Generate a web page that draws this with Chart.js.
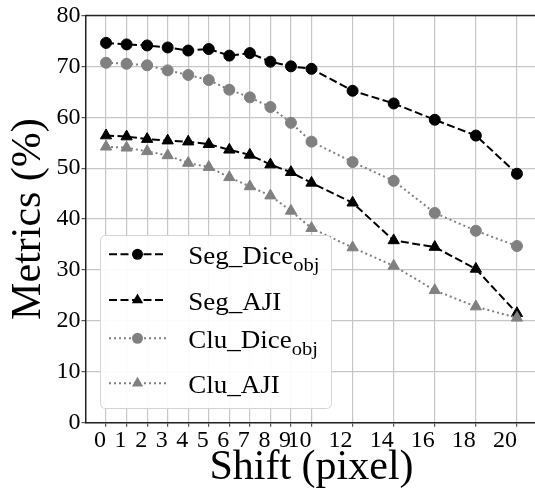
<!DOCTYPE html>
<html><head><meta charset="utf-8">
<script src="https://cdn.jsdelivr.net/npm/chart.js@4/dist/chart.umd.min.js"></script>
<style>
html,body{margin:0;padding:0;background:#fff;overflow:hidden;width:535px;height:498px;}
#wrap{width:535px;height:498px;overflow:hidden;position:relative;}
canvas{display:block;}
</style></head><body>
<div id="wrap"><canvas id="c" width="545" height="498" style="width:545px;height:498px"></canvas></div>
<script>
const shifts = [0,1,2,3,4,5,6,7,8,9,10,12,14,16,18,20];
const xTickValues = [0,1,2,3,4,5,6,7,8,9,10,12,14,16,18,20];
const yTickValues = [0,10,20,30,40,50,60,70,80];
const segDice = [74.6,74.3,74.1,73.7,73.1,73.4,72.1,72.6,70.9,70.0,69.5,65.2,62.7,59.5,56.4,48.9];
const segAJI  = [56.4,56.2,55.7,55.4,55.2,54.7,53.6,52.6,50.7,49.2,47.1,43.2,35.8,34.5,30.2,21.5];
const cluDice = [70.7,70.5,70.2,69.2,68.3,67.3,65.4,63.9,62.0,58.9,55.2,51.2,47.5,41.2,37.7,34.7];
const cluAJI  = [54.2,54.0,53.3,52.5,51.0,50.2,48.2,46.4,44.6,41.6,38.2,34.4,30.8,26.0,22.8,20.6];
const seriesNames = ['Seg_Dice','Seg_AJI','Clu_Dice','Clu_AJI'];
const seriesSubs  = ['obj','','obj',''];

const FONT = '"Liberation Serif", "Times New Roman", serif';
const BLACK = '#000000', GRAY = '#808080';

function mk(name, vals, color, dash, style, r, order){
  return {
    label: name,
    data: shifts.map((x,i)=>({x:x, y:vals[i]})),
    borderColor: color, backgroundColor: color,
    borderWidth: 2, borderDash: dash,
    pointStyle: style, pointRadius: r, pointBorderWidth: 1,
    pointBackgroundColor: color, pointBorderColor: color,
    tension: 0, order: order, fill: false
  };
}

const frame = {
  id: 'frame',
  afterDatasetsDraw(chart){
    const {ctx, chartArea:a} = chart;
    ctx.save();
    ctx.strokeStyle = '#222'; ctx.lineWidth = 1.5;
    ctx.beginPath(); ctx.moveTo(a.left, a.top); ctx.lineTo(a.right, a.top); ctx.stroke();
    ctx.restore();
  },
  afterDraw(chart){
    const ctx = chart.ctx;
    ctx.save();
    ctx.beginPath();
    ctx.roundRect(100.5, 235.5, 231, 173, 5);
    ctx.fillStyle = 'rgba(255,255,255,0.93)';
    ctx.fill();
    ctx.strokeStyle = '#d4d4d4'; ctx.lineWidth = 1; ctx.stroke();
    const rows = [254.3, 300, 338.3, 383.3];
    chart.data.datasets.forEach((ds,i)=>{
      const y = rows[i];
      ctx.strokeStyle = ds.borderColor; ctx.lineWidth = 2;
      ctx.setLineDash(ds.borderDash);
      ctx.beginPath(); ctx.moveTo(109, y); ctx.lineTo(166, y); ctx.stroke();
      ctx.setLineDash([]);
      ctx.fillStyle = ds.borderColor;
      ctx.beginPath();
      if (ds.pointStyle === 'circle') {
        ctx.arc(137.5, y, 5.5, 0, Math.PI*2);
      } else {
        const r = 6.5;
        ctx.moveTo(137.5, y - r);
        ctx.lineTo(137.5 + r*Math.sin(Math.PI*2/3), y - r*Math.cos(Math.PI*2/3));
        ctx.lineTo(137.5 + r*Math.sin(Math.PI*4/3), y - r*Math.cos(Math.PI*4/3));
        ctx.closePath();
      }
      ctx.fill();
      ctx.fillStyle = '#000';
      ctx.textBaseline = 'alphabetic'; ctx.textAlign = 'left';
      ctx.save();
      ctx.translate(188.3, y + 9.5);
      ctx.scale(1.08, 1);
      ctx.font = '25px ' + FONT;
      ctx.fillText(seriesNames[i], 0, 0);
      const w = ctx.measureText(seriesNames[i]).width;
      if (seriesSubs[i]) {
        ctx.font = '19px ' + FONT;
        ctx.fillText(seriesSubs[i], w, 7);
      }
      ctx.restore();
    });
    ctx.restore();
  }
};

new Chart(document.getElementById('c'), {
  type: 'line',
  data: {
    datasets: [
      mk(seriesNames[0]+'obj', segDice, BLACK, [8,3.5], 'circle', 5.5, 4),
      mk(seriesNames[1], segAJI, BLACK, [8,3.5], 'triangle', 6.5, 3),
      mk(seriesNames[2]+'obj', cluDice, GRAY, [2,3], 'circle', 5.5, 2),
      mk(seriesNames[3], cluAJI, GRAY, [2,3], 'triangle', 6.5, 1)
    ]
  },
  options: {
    responsive: false, animation: false, devicePixelRatio: 1,
    layout: {padding: {top: 12.7, right: 5.3, left: 0, bottom: 0}},
    plugins: {legend: {display: false}, tooltip: {enabled: false}},
    scales: {
      x: {
        type: 'linear', min: -1, max: 21,
        afterBuildTicks: s => { s.ticks = xTickValues.map(v => ({value: v})); },
        afterFit: s => { s.height = 75.3; },
        ticks: {autoSkip: false, maxRotation: 0, minRotation: 0, align: 'end', padding: 0,
                color: '#000', font: {family: FONT, size: 24}},
        grid: {color: '#c6c6c6', lineWidth: 1.2, tickLength: 4, tickColor: '#555'},
        border: {color: '#222', width: 1.5},
        title: {display: true, text: 'Shift (pixel)', color: '#000',
                font: {family: FONT, size: 42}, padding: {top: 0, bottom: 5.3}}
      },
      y: {
        min: 0, max: 80,
        afterBuildTicks: s => { s.ticks = yTickValues.map(v => ({value: v})); },
        afterFit: s => { s.width = 85.5; },
        ticks: {padding: 1, color: '#000', font: {family: FONT, size: 24}},
        grid: {color: '#c6c6c6', lineWidth: 1.2, tickLength: 4, tickColor: '#555'},
        border: {color: '#222', width: 1.5},
        title: {display: true, text: 'Metrics (%)', color: '#000',
                font: {family: FONT, size: 42}, padding: {top: 4, bottom: 0}}
      }
    }
  },
  plugins: [frame]
});
</script>
</body></html>
